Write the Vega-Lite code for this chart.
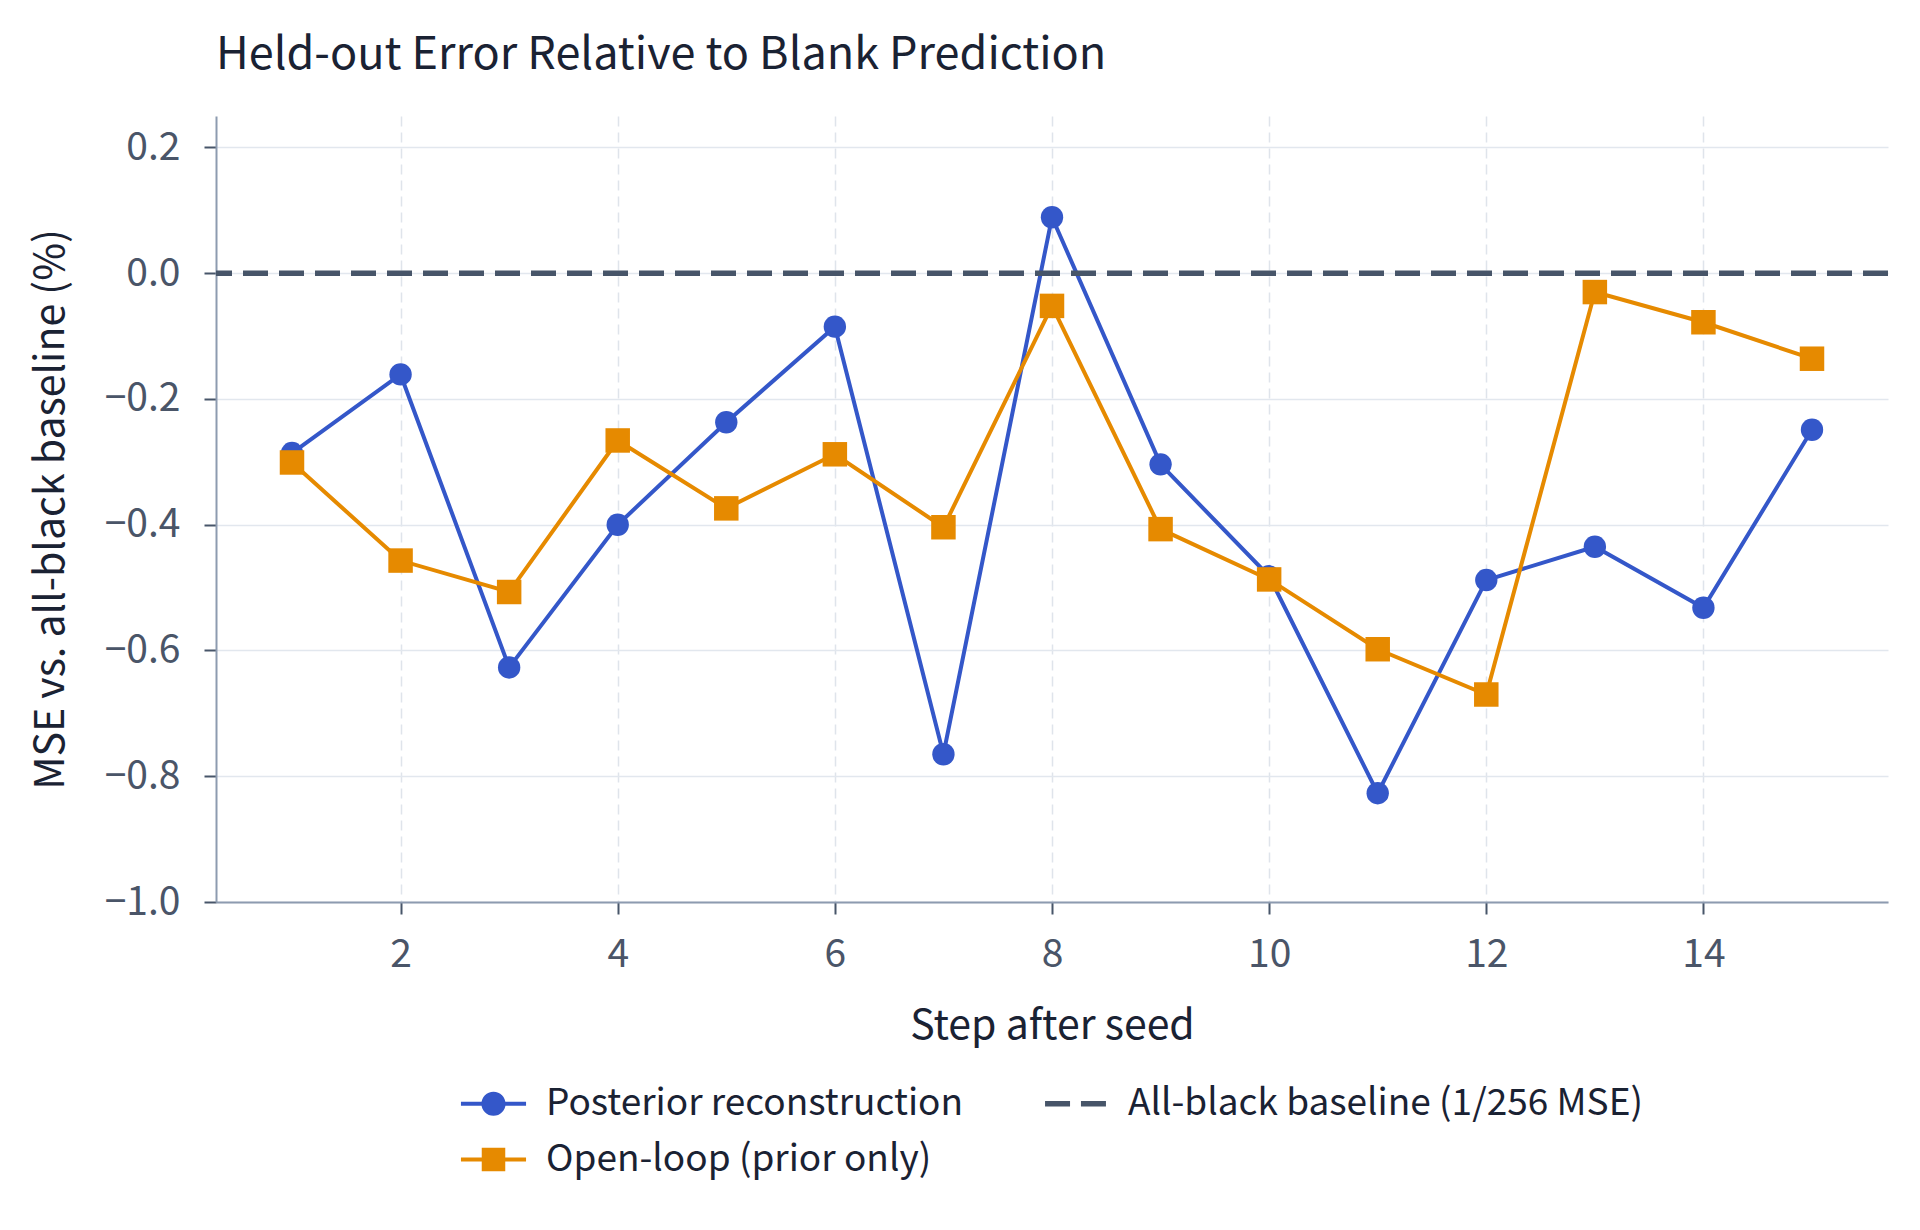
{
  "$schema": "https://vega.github.io/schema/vega-lite/v6.json",
  "autosize": {"type": "none"},
  "width": 1672,
  "height": 786,
  "padding": {"left": 216, "top": 116, "right": 32, "bottom": 328},
  "background": "white",
  "title": {
    "text": "Held-out Error Relative to Blank Prediction",
    "anchor": "start",
    "frame": "group",
    "font": "Noto Sans CJK KR",
    "fontSize": 45,
    "fontWeight": "normal",
    "color": "#1a2233",
    "baseline": "alphabetic",
    "offset": 50,
    "dy": 48
  },
  "config": {
    "view": {"stroke": null},
    "font": "Noto Sans CJK KR"
  },
  "data": {
    "values": [
      {"step": 1, "value": -0.286, "series": "Posterior reconstruction"},
      {"step": 2, "value": -0.161, "series": "Posterior reconstruction"},
      {"step": 3, "value": -0.627, "series": "Posterior reconstruction"},
      {"step": 4, "value": -0.400, "series": "Posterior reconstruction"},
      {"step": 5, "value": -0.237, "series": "Posterior reconstruction"},
      {"step": 6, "value": -0.085, "series": "Posterior reconstruction"},
      {"step": 7, "value": -0.765, "series": "Posterior reconstruction"},
      {"step": 8, "value": 0.089, "series": "Posterior reconstruction"},
      {"step": 9, "value": -0.304, "series": "Posterior reconstruction"},
      {"step": 10, "value": -0.482, "series": "Posterior reconstruction"},
      {"step": 11, "value": -0.827, "series": "Posterior reconstruction"},
      {"step": 12, "value": -0.488, "series": "Posterior reconstruction"},
      {"step": 13, "value": -0.435, "series": "Posterior reconstruction"},
      {"step": 14, "value": -0.532, "series": "Posterior reconstruction"},
      {"step": 15, "value": -0.249, "series": "Posterior reconstruction"},
      {"step": 1, "value": -0.301, "series": "Open-loop (prior only)"},
      {"step": 2, "value": -0.457, "series": "Open-loop (prior only)"},
      {"step": 3, "value": -0.507, "series": "Open-loop (prior only)"},
      {"step": 4, "value": -0.266, "series": "Open-loop (prior only)"},
      {"step": 5, "value": -0.374, "series": "Open-loop (prior only)"},
      {"step": 6, "value": -0.288, "series": "Open-loop (prior only)"},
      {"step": 7, "value": -0.404, "series": "Open-loop (prior only)"},
      {"step": 8, "value": -0.052, "series": "Open-loop (prior only)"},
      {"step": 9, "value": -0.407, "series": "Open-loop (prior only)"},
      {"step": 10, "value": -0.487, "series": "Open-loop (prior only)"},
      {"step": 11, "value": -0.598, "series": "Open-loop (prior only)"},
      {"step": 12, "value": -0.670, "series": "Open-loop (prior only)"},
      {"step": 13, "value": -0.030, "series": "Open-loop (prior only)"},
      {"step": 14, "value": -0.078, "series": "Open-loop (prior only)"},
      {"step": 15, "value": -0.136, "series": "Open-loop (prior only)"},
      {"value": 0, "series": "All-black baseline (1/256 MSE)"}
    ]
  },
  "encoding": {
    "x": {
      "field": "step",
      "type": "quantitative",
      "scale": {"domain": [0.3, 15.7], "nice": false, "zero": false},
      "axis": {
        "title": "Step after seed",
        "values": [2, 4, 6, 8, 10, 12, 14],
        "grid": true,
        "gridDash": [10, 6],
        "gridColor": "#dfe4eb",
        "gridWidth": 1.5,
        "domainColor": "#8d9bb0",
        "domainWidth": 2,
        "tickColor": "#475569",
        "tickWidth": 2,
        "tickSize": 12,
        "labelFontSize": 39,
        "labelColor": "#4a5568",
        "labelPadding": 21,
        "titleFontSize": 41,
        "titleFontWeight": "normal",
        "titleColor": "#1a2233",
        "titleBaseline": "middle",
        "titleY": 124
      }
    },
    "y": {
      "field": "value",
      "type": "quantitative",
      "scale": {"domain": [-1.0, 0.25], "nice": false, "zero": false},
      "axis": {
        "title": "MSE vs. all-black baseline (%)",
        "values": [-1.0, -0.8, -0.6, -0.4, -0.2, 0.0, 0.2],
        "format": ".1f",
        "grid": true,
        "gridColor": "#e2e7ee",
        "gridWidth": 1.5,
        "domainColor": "#8d9bb0",
        "domainWidth": 2,
        "tickColor": "#475569",
        "tickWidth": 2,
        "tickSize": 12,
        "labelFontSize": 39,
        "labelColor": "#4a5568",
        "labelPadding": 24,
        "titleFontSize": 41,
        "titleFontWeight": "normal",
        "titleColor": "#1a2233",
        "titleBaseline": "middle",
        "titleX": -165
      }
    },
    "color": {
      "field": "series",
      "type": "nominal",
      "scale": {
        "domain": ["Posterior reconstruction", "All-black baseline (1/256 MSE)", "Open-loop (prior only)"],
        "range": ["#3457c9", "#475569", "#e68a00"]
      },
      "legend": {
        "title": null,
        "orient": "none",
        "legendX": 259,
        "legendY": 969,
        "columns": 2,
        "direction": "horizontal",
        "padding": 0,
        "columnPadding": 81,
        "rowPadding": 18,
        "symbolSize": 441,
        "labelOffset": 34,
        "labelFontSize": 37,
        "labelColor": "#1a2233",
        "labelLimit": 1000,
        "encode": {
          "symbols": {
            "update": {
              "shape": {"signal": "datum.value === 'Posterior reconstruction' ? 'M-3.1,-0.18H3.1V0.18H-3.1Z M1.15,0A1.15,1.15,0,1,1,-1.15,0A1.15,1.15,0,1,1,1.15,0Z' : datum.value === 'Open-loop (prior only)' ? 'M-3.1,-0.18H3.1V0.18H-3.1Z M-1.12,-1.12H1.12V1.12H-1.12Z' : 'M-2.9,-0.26H-0.52V0.26H-2.9Z M0.52,-0.26H2.9V0.26H0.52Z'"},
              "fill": {"scale": "color", "field": "value"},
              "stroke": {"value": "transparent"},
              "strokeWidth": {"value": 0},
              "strokeDash": {"value": []},
              "opacity": {"value": 1},
              "fillOpacity": {"value": 1}
            }
          }
        }
      }
    }
  },
  "layer": [
    {
      "transform": [{"filter": "datum.series === 'Posterior reconstruction'"}],
      "mark": {"type": "line", "strokeWidth": 4}
    },
    {
      "transform": [{"filter": "datum.series === 'Posterior reconstruction'"}],
      "mark": {"type": "point", "shape": "circle", "filled": true, "size": 500, "opacity": 1}
    },
    {
      "transform": [{"filter": "datum.series === 'Open-loop (prior only)'"}],
      "mark": {"type": "line", "strokeWidth": 4}
    },
    {
      "transform": [{"filter": "datum.series === 'Open-loop (prior only)'"}],
      "mark": {"type": "point", "shape": "square", "filled": true, "size": 600, "opacity": 1}
    },
    {
      "transform": [{"filter": "datum.series === 'All-black baseline (1/256 MSE)'"}],
      "mark": {"type": "rule", "strokeDash": [25, 11], "strokeWidth": 5.5},
      "encoding": {"x": null}
    }
  ]
}
